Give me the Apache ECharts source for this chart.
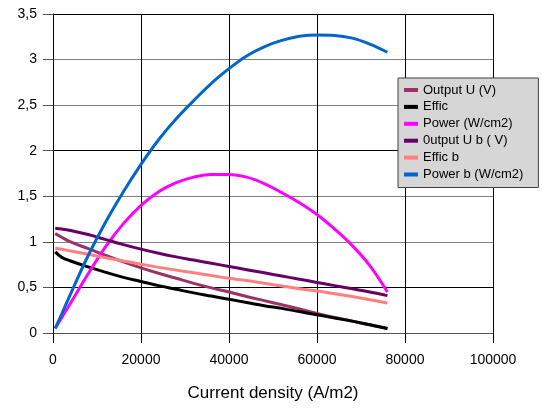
<!DOCTYPE html>
<html>
<head>
<meta charset="utf-8">
<script src="https://cdn.jsdelivr.net/npm/echarts@6/dist/echarts.min.js"></script>
<style>
html,body{margin:0;padding:0;background:#fff;}
#chart{width:542px;height:414px;}
</style>
</head>
<body>
<div id="chart"></div>
<script>
var currentDensity = [500, 2000, 4000, 8000, 12000, 16000, 20000, 24000, 28000, 32000, 36000, 40000, 44000, 48000, 52000, 56000, 60000, 64000, 68000, 72000, 76000];
var outputU   = [1.09, 1.05, 1.00, 0.925, 0.85, 0.78, 0.715, 0.655, 0.60, 0.545, 0.495, 0.45, 0.40, 0.355, 0.31, 0.265, 0.215, 0.17, 0.13, 0.09, 0.05];
var effic     = [0.89, 0.83, 0.79, 0.725, 0.665, 0.61, 0.565, 0.52, 0.48, 0.44, 0.405, 0.37, 0.335, 0.30, 0.27, 0.235, 0.20, 0.165, 0.13, 0.09, 0.05];
var power     = [0.05, 0.17, 0.33, 0.65, 0.95, 1.20, 1.40, 1.55, 1.65, 1.71, 1.74, 1.74, 1.71, 1.64, 1.54, 1.43, 1.30, 1.14, 0.96, 0.74, 0.45];
var outputUb  = [1.15, 1.14, 1.125, 1.08, 1.025, 0.97, 0.92, 0.875, 0.835, 0.80, 0.765, 0.73, 0.695, 0.66, 0.625, 0.59, 0.555, 0.52, 0.485, 0.45, 0.41];
var efficB    = [0.93, 0.92, 0.90, 0.865, 0.825, 0.79, 0.755, 0.72, 0.69, 0.66, 0.63, 0.60, 0.575, 0.545, 0.515, 0.485, 0.46, 0.43, 0.40, 0.365, 0.33];
var powerB    = [0.05, 0.21, 0.43, 0.85, 1.22, 1.55, 1.85, 2.12, 2.35, 2.55, 2.74, 2.90, 3.04, 3.14, 3.21, 3.255, 3.27, 3.265, 3.235, 3.17, 3.08];

var seriesNames  = ['Output U (V)', 'Effic', 'Power (W/cm2)', '0utput U b ( V)', 'Effic b', 'Power b (W/cm2)'];
var seriesValues = [outputU, effic, power, outputUb, efficB, powerB];
var seriesColors = ['#993366', '#000000', '#ff00ff', '#660066', '#ff8080', '#0066cc'];

var xTickLabels = ['0', '20000', '40000', '60000', '80000', '100000'];
var yTickLabels = ['0', '0,5', '1', '1,5', '2', '2,5', '3', '3,5'];
var xAxisTitle = 'Current density (A/m2)';

var chart = echarts.init(document.getElementById('chart'), null, {renderer: 'canvas'});

var series = seriesNames.map(function (name, i) {
  return {
    name: name,
    type: 'line',
    smooth: 0.4,
    showSymbol: false,
    symbol: 'none',
    color: seriesColors[i],
    lineStyle: {width: 3, color: seriesColors[i]},
    data: currentDensity.map(function (x, k) { return [x, seriesValues[i][k]]; })
  };
});

chart.setOption({
  animation: false,
  backgroundColor: '#ffffff',
  textStyle: {fontFamily: 'Liberation Sans, Arial, sans-serif'},
  grid: {left: 53, right: 49, top: 14, bottom: 81},
  legend: {
    orient: 'vertical',
    left: 398,
    top: 78,
    padding: [5, 15, 6, 6],
    itemWidth: 14,
    itemHeight: 4,
    itemGap: 2.9,
    icon: 'rect',
    backgroundColor: '#d6d6d6',
    borderColor: '#404040',
    borderWidth: 1,
    textStyle: {fontSize: 13, color: '#000', lineHeight: 14, fontFamily: 'Liberation Sans, Arial, sans-serif'},
    data: seriesNames
  },
  xAxis: {
    type: 'value',
    min: 0,
    max: 100000,
    interval: 20000,
    name: xAxisTitle,
    nameLocation: 'middle',
    nameGap: 52,
    nameTextStyle: {fontSize: 17, color: '#000', fontFamily: 'Liberation Sans, Arial, sans-serif'},
    axisLine: {show: true, lineStyle: {color: '#555', width: 1}},
    axisTick: {show: true, length: 10, lineStyle: {color: '#000'}},
    axisLabel: {
      margin: 20,
      fontSize: 14,
      color: '#000',
      formatter: function (v) { return xTickLabels[Math.round(v / 20000)]; }
    },
    splitLine: {show: true, lineStyle: {color: '#000', width: 1}}
  },
  yAxis: {
    type: 'value',
    min: 0,
    max: 3.5,
    interval: 0.5,
    axisLine: {show: true, lineStyle: {color: '#000', width: 1}},
    axisTick: {show: true, length: 10, lineStyle: {color: '#555'}},
    axisLabel: {
      margin: 16,
      fontSize: 14,
      color: '#000',
      formatter: function (v) { return yTickLabels[Math.round(v / 0.5)]; }
    },
    splitLine: {show: true, lineStyle: {color: ['#808080', '#000000', '#808080', '#808080', '#000000', '#808080', '#808080', '#000000'], width: 1}}
  },
  series: series
});
</script>
</body>
</html>
